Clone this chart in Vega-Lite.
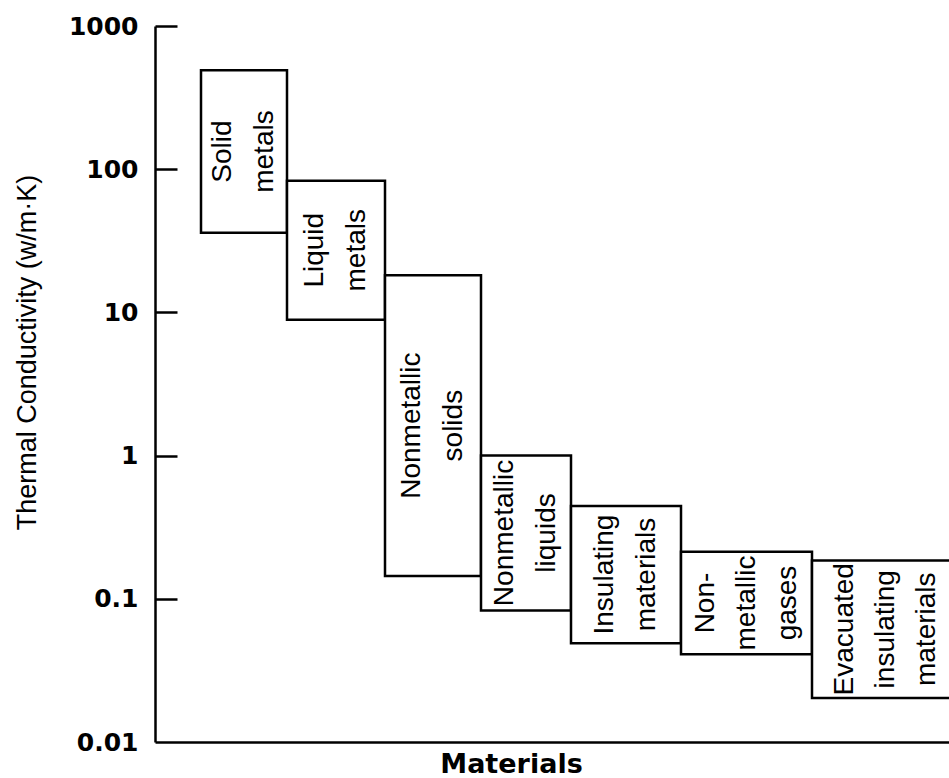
{
  "$schema": "https://vega.github.io/schema/vega-lite/v6.json",
  "width": 794,
  "height": 716,
  "autosize": {"type": "none"},
  "padding": {"left": 155, "top": 26, "right": 0, "bottom": 36},
  "background": "white",
  "config": {"view": {"stroke": null}},
  "data": {
    "values": [
      {"material": "Solid metals", "label": ["Solid", "metals"], "lines": 2, "x0": 46, "x1": 132, "lo": 36, "hi": 490},
      {"material": "Liquid metals", "label": ["Liquid", "metals"], "lines": 2, "x0": 132, "x1": 230, "lo": 8.9, "hi": 83},
      {"material": "Nonmetallic solids", "label": ["Nonmetallic", "solids"], "lines": 2, "x0": 230, "x1": 326, "lo": 0.144, "hi": 18.2},
      {"material": "Nonmetallic liquids", "label": ["Nonmetallic", "liquids"], "lines": 2, "x0": 326, "x1": 416, "lo": 0.083, "hi": 1.0},
      {"material": "Insulating materials", "label": ["Insulating", "materials"], "lines": 2, "x0": 416, "x1": 526, "lo": 0.049, "hi": 0.445},
      {"material": "Non-metallic gases", "label": ["Non-", "metallic", "gases"], "lines": 3, "x0": 526, "x1": 657, "lo": 0.041, "hi": 0.213},
      {"material": "Evacuated insulating materials", "label": ["Evacuated", "insulating", "materials"], "lines": 3, "x0": 657, "x1": 805, "lo": 0.0203, "hi": 0.185}
    ]
  },
  "resolve": {"axis": {"y": "independent"}},
  "layer": [
    {
      "mark": {"type": "rect", "fill": "white", "stroke": "black", "strokeWidth": 2.5, "clip": true},
      "encoding": {
        "x": {
          "field": "x0", "type": "quantitative",
          "scale": {"domain": [0, 794], "nice": false, "zero": false},
          "axis": {
            "title": "Materials", "labels": false, "ticks": false, "grid": false,
            "domainColor": "black", "domainWidth": 2.5,
            "titleFont": "DejaVu Sans", "titleFontSize": 27, "titleFontWeight": "bold", "titleColor": "black",
            "titleX": 356, "titleY": 22, "titleBaseline": "middle", "titleAlign": "center", "titleAnchor": null
          }
        },
        "x2": {"field": "x1"},
        "y": {
          "field": "lo", "type": "quantitative",
          "scale": {"type": "log", "domain": [0.01, 1000], "nice": false},
          "axis": {
            "orient": "left",
            "title": "Thermal Conductivity (w/m·K)",
            "values": [0.01, 0.1, 1, 10, 100, 1000],
            "format": "~g",
            "grid": false,
            "ticks": false,
            "domainColor": "black", "domainWidth": 2.5,
            "labelPadding": 17,
            "labelFont": "DejaVu Sans", "labelFontSize": 25, "labelFontWeight": "bold", "labelColor": "black",
            "labelBaseline": "middle",
            "titleFont": "Liberation Sans", "titleFontSize": 27, "titleFontWeight": "normal", "titleColor": "black",
            "titleX": -128, "titleY": 326, "titleAngle": 270, "titleBaseline": "middle", "titleAlign": "center", "titleAnchor": null
          }
        },
        "y2": {"field": "hi"}
      }
    },
    {
      "transform": [
        {"filter": "datum.lines == 2"},
        {"calculate": "(datum.x0 + datum.x1) / 2", "as": "xm"},
        {"calculate": "sqrt(datum.lo * datum.hi)", "as": "ym"}
      ],
      "mark": {"type": "text", "angle": 270, "align": "center", "baseline": "middle", "dy": -21, "font": "Liberation Sans", "fontSize": 28, "lineHeight": 42, "color": "black", "clip": true},
      "encoding": {
        "x": {"field": "xm", "type": "quantitative"},
        "y": {
          "field": "ym", "type": "quantitative",
          "axis": {
            "orient": "left", "offset": -22, "domain": false, "labels": false, "grid": false, "title": null,
            "ticks": true, "tickSize": 22, "tickWidth": 2.5, "tickColor": "black",
            "values": [0.1, 1, 10, 100, 1000]
          }
        },
        "text": {"field": "label"}
      }
    },
    {
      "transform": [
        {"filter": "datum.lines == 3"},
        {"calculate": "(datum.x0 + datum.x1) / 2", "as": "xm"},
        {"calculate": "sqrt(datum.lo * datum.hi)", "as": "ym"}
      ],
      "mark": {"type": "text", "angle": 270, "align": "center", "baseline": "middle", "dy": -41, "font": "Liberation Sans", "fontSize": 28, "lineHeight": 41, "color": "black", "clip": true},
      "encoding": {
        "x": {"field": "xm", "type": "quantitative"},
        "y": {"field": "ym", "type": "quantitative", "axis": null},
        "text": {"field": "label"}
      }
    }
  ]
}
